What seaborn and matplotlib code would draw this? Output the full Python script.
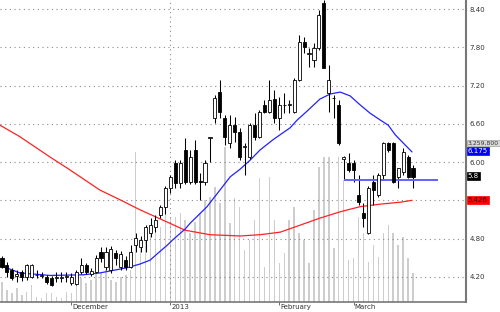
import numpy as np
import pandas as pd
import matplotlib
matplotlib.use("Agg")
import matplotlib.pyplot as plt
import seaborn as sns
from matplotlib.transforms import blended_transform_factory, ScaledTranslation

sns.set_theme(style="white")
plt.rcParams['font.family'] = ['DejaVu Sans']

# ---- data ----
opens = [4.49, 4.38, 4.31, 4.21, 4.27, 4.20, 4.20, 4.23, 4.21, 4.20,
         4.18, 4.18, 4.18, 4.19, 4.10, 4.09, 4.27, 4.38, 4.24, 4.27,
         4.59, 4.35, 4.31, 4.57, 4.35, 4.46, 4.35, 4.70, 4.67, 4.78,
         4.89, 4.98, 5.17, 5.30, 5.59, 5.99, 5.67, 6.19, 5.69, 6.19,
         5.70, 5.69, 6.38, 6.69, 7.10, 6.69, 6.30, 6.58, 6.47, 6.23,
         6.08, 6.58, 6.39, 6.90, 6.79, 6.99, 6.69, 6.89, 6.90, 6.79,
         7.29, 7.89, 7.70, 7.60, 7.79, 8.50, 7.09, 7.01, 6.90, 6.05,
         5.99, 5.99, 5.48, 5.20, 4.89, 5.69, 5.48, 5.80, 6.30, 6.30,
         5.77, 5.85, 6.08, 5.91]
highs = [4.52, 4.43, 4.34, 4.31, 4.31, 4.40, 4.40, 4.31, 4.27, 4.23,
         4.21, 4.27, 4.27, 4.27, 4.26, 4.31, 4.49, 4.42, 4.34, 4.54,
         4.67, 4.67, 4.68, 4.62, 4.60, 4.52, 4.70, 4.89, 4.84, 5.01,
         5.12, 5.17, 5.33, 5.63, 5.80, 6.03, 6.03, 6.38, 6.19, 6.35,
         5.83, 6.03, 6.40, 7.05, 7.29, 6.74, 6.74, 6.71, 6.54, 6.30,
         6.61, 6.77, 6.82, 6.98, 7.29, 7.13, 7.02, 7.09, 6.98, 7.32,
         8.00, 7.96, 7.79, 7.87, 8.39, 8.55, 7.53, 7.05, 6.98, 6.10,
         6.14, 6.03, 5.80, 5.36, 5.62, 5.80, 5.83, 6.31, 6.31, 6.31,
         5.91, 6.22, 6.11, 5.96]
lows = [4.34, 4.20, 4.15, 4.12, 4.13, 4.15, 4.18, 4.18, 4.18, 4.09,
        4.05, 4.12, 4.12, 4.12, 4.07, 4.07, 4.24, 4.24, 4.21, 4.26,
        4.43, 4.31, 4.26, 4.38, 4.31, 4.31, 4.34, 4.59, 4.59, 4.59,
        4.82, 4.90, 5.12, 5.19, 5.52, 5.59, 5.59, 5.66, 5.66, 5.66,
        5.41, 5.64, 6.00, 6.61, 6.69, 6.27, 6.22, 6.32, 6.03, 5.80,
        6.05, 6.35, 6.38, 6.77, 6.77, 6.61, 6.50, 6.77, 6.77, 6.77,
        7.27, 7.71, 7.49, 7.49, 7.76, 7.48, 6.79, 6.69, 6.27, 5.72,
        5.85, 5.69, 5.33, 4.98, 4.87, 5.33, 5.45, 5.72, 6.16, 5.67,
        5.59, 5.80, 5.75, 5.59]
closes = [4.35, 4.27, 4.18, 4.24, 4.20, 4.38, 4.38, 4.22, 4.23, 4.12,
          4.07, 4.19, 4.19, 4.21, 4.20, 4.27, 4.38, 4.27, 4.29, 4.49,
          4.49, 4.59, 4.64, 4.49, 4.56, 4.35, 4.59, 4.81, 4.78, 4.98,
          5.01, 5.09, 5.30, 5.59, 5.77, 5.67, 5.99, 5.69, 6.08, 5.69,
          5.69, 5.99, 6.39, 7.01, 6.79, 6.39, 6.58, 6.47, 6.08, 6.25,
          6.58, 6.39, 6.79, 6.79, 6.98, 6.69, 6.90, 6.90, 6.91, 7.29,
          7.89, 7.81, 7.71, 7.79, 8.31, 7.48, 7.29, 7.00, 6.30, 6.08,
          5.88, 5.88, 5.37, 5.12, 5.59, 5.56, 5.80, 6.30, 6.19, 5.69,
          5.91, 6.16, 5.77, 5.77]
volumes_m = [2.2, 1.3, 1.0, 1.5, 0.8, 1.1, 1.9, 0.5, 0.4, 1.0,
             1.0, 0.5, 0.4, 1.1, 1.0, 1.9, 2.6, 2.1, 2.4, 3.3,
             3.2, 3.5, 2.4, 2.2, 2.7, 3.0, 3.5, 16.4, 6.0, 7.0,
             7.5, 7.9, 8.2, 9.7, 9.3, 9.3, 9.7, 9.0, 7.5, 8.7,
             9.7, 11.1, 11.5, 12.6, 10.8, 16.9, 8.6, 11.4, 10.4, 5.7,
             6.8, 9.0, 13.6, 3.8, 13.7, 9.0, 4.3, 5.4, 9.0, 10.4,
             7.5, 6.8, 4.3, 10.1, 14.8, 15.8, 15.8, 5.9, 15.8, 13.3,
             4.6, 4.8, 9.3, 7.5, 4.4, 6.2, 4.9, 7.5, 8.4, 7.5,
             6.2, 7.1, 4.8, 3.2]

ma_short_idx = [-0.4, 3.6, 9.7, 16.4, 19.8, 25.2, 27.9, 29.9, 31.5, 33.3,
                34.5, 37.0, 38.0, 41.4, 44.0, 46.1, 48.1, 50.1, 52.1, 54.7,
                58.2, 59.6, 61.6, 64.2, 66.3, 68.3, 70.3, 72.3, 74.3, 76.4,
                78.0, 79.4, 81.4, 82.8]
ma_short_val = [4.38, 4.26, 4.22, 4.23, 4.26, 4.34, 4.40, 4.46, 4.57, 4.69,
                4.78, 4.95, 5.04, 5.30, 5.56, 5.77, 5.89, 6.03, 6.19, 6.35,
                6.54, 6.66, 6.80, 6.99, 7.07, 7.10, 7.04, 6.90, 6.77, 6.66,
                6.58, 6.43, 6.27, 6.16]
ma_long_idx = [-0.4, 3.6, 9.7, 13.1, 19.8, 23.8, 27.9, 31.9, 37.0, 42.0,
               48.1, 52.1, 56.2, 60.2, 64.2, 68.3, 72.3, 76.4, 80.4, 82.8]
ma_long_val = [6.58, 6.40, 6.08, 5.91, 5.56, 5.41, 5.25, 5.11, 4.93, 4.86,
               4.84, 4.86, 4.90, 5.01, 5.12, 5.22, 5.30, 5.34, 5.37, 5.40]

support_level = 5.72
support_span = [69, 88]
price_ticks = [4.20, 4.80, 5.40, 6.00, 6.60, 7.20, 7.80, 8.40]
hidden_tick = 5.40          # covered by the red MA tag in the chart
month_idx = [14, 34, 56, 71]
month_labels = ["December", "2013", "February", "March"]
year_break_idx = 34
volume_label = "3,259,800"
volume_label_pos = 6.30
ma_short_label, ma_short_pos = "6.175", 6.17
support_label, support_label_pos = "5.8", 5.78
ma_long_label, ma_long_pos = "5.426", 5.41

# ---- figure ----
fig = plt.figure(figsize=(5, 3.12), dpi=100)
fig.patch.set_facecolor("white")
ax_vol = fig.add_axes([0, 1 - 302 / 312, 466 / 500, 302 / 312])
ax = ax_vol.twinx()

n = len(opens)
idx = np.arange(n)
vol_df = pd.DataFrame({"idx": idx, "vol": volumes_m})
sns.barplot(data=vol_df, x="idx", y="vol", native_scale=True, color="#cdcdcd",
            saturation=1, width=0.3, linewidth=0, ax=ax_vol)
ax_vol.set_ylim(0, 33)
ax_vol.set_yticks([])
ax_vol.set_xlabel("")
ax_vol.set_ylabel("")

# grid
grid_style = dict(color="#8a8a8a", lw=0.8, ls=(0, (1, 3.2)), zorder=0.5)
for t in price_ticks:
    ax.axhline(t, **grid_style)
ax.axvline(year_break_idx - 0.1, **grid_style)

# moving averages
sns.lineplot(x=ma_long_idx, y=ma_long_val, ax=ax, color="#ff2222", linewidth=0.9, zorder=2)
sns.lineplot(x=ma_short_idx, y=ma_short_val, ax=ax, color="#2222ff", linewidth=0.9, zorder=2)

# candles
o = np.array(opens); c = np.array(closes)
ax.vlines(idx, lows, highs, color="black", lw=0.75, zorder=3)
bottoms = np.minimum(o, c)
heights = np.maximum(np.abs(c - o), 0.004)
fills = ["white" if cc >= oo else "black" for oo, cc in zip(o, c)]
ax.bar(idx, heights, bottom=bottoms, width=0.62, color=fills,
       edgecolor="black", linewidth=0.6, zorder=4)

# support line
ax.hlines(support_level, support_span[0], support_span[1], color="#6262ff", lw=1.4, zorder=3.5)

ax.set_xlim(-0.4, 93.7)
ax.set_ylim(3.803, 8.546)
ax.set_yticks(price_ticks)
ax.set_yticklabels(["" if abs(t - hidden_tick) < 1e-9 else f"{t:.2f}" for t in price_ticks])
ax.tick_params(axis="y", length=0, pad=2.5, labelsize=5, labelcolor="#333333")
ax.set_ylabel("")

ax_vol.set_xticks(month_idx)
ax_vol.set_xticklabels(month_labels)
ax_vol.tick_params(axis="x", length=2.5, width=0.6, color="#555555", direction="out",
                   pad=-1.2, labelsize=5, labelcolor="#333333", bottom=True)
offset = ScaledTranslation(1.2 / 100, 0, fig.dpi_scale_trans)
for lbl in ax_vol.get_xticklabels():
    lbl.set_horizontalalignment("left")
    lbl.set_transform(lbl.get_transform() + offset)

for s in ["top", "left", "bottom"]:
    ax.spines[s].set_visible(False)
ax.spines["right"].set_color("#777777")
ax.spines["right"].set_linewidth(1.5)
for s in ["top", "left", "right"]:
    ax_vol.spines[s].set_visible(False)
ax_vol.spines["bottom"].set_color("#777777")
ax_vol.spines["bottom"].set_linewidth(1.2)

# right-hand value boxes
trans = blended_transform_factory(ax.transAxes, ax.transData)
def tag(y, text, fc, tc, ec, size=5):
    ax.text(1.004, y, text, transform=trans, ha="left", va="center", fontsize=size,
            color=tc, clip_on=False, zorder=10,
            bbox=dict(boxstyle="square,pad=0.12", fc=fc, ec=ec, lw=0.5))

tag(volume_label_pos, volume_label, "#d9d9d9", "#333333", "#a0a0a0", size=4.4)
tag(ma_short_pos, ma_short_label, "#0000ff", "white", "#0000ff")
tag(support_label_pos, support_label, "black", "white", "black")
tag(ma_long_pos, ma_long_label, "#ff0000", "#330000", "#ff0000")

fig.savefig("out.png", dpi=100, facecolor="white")
